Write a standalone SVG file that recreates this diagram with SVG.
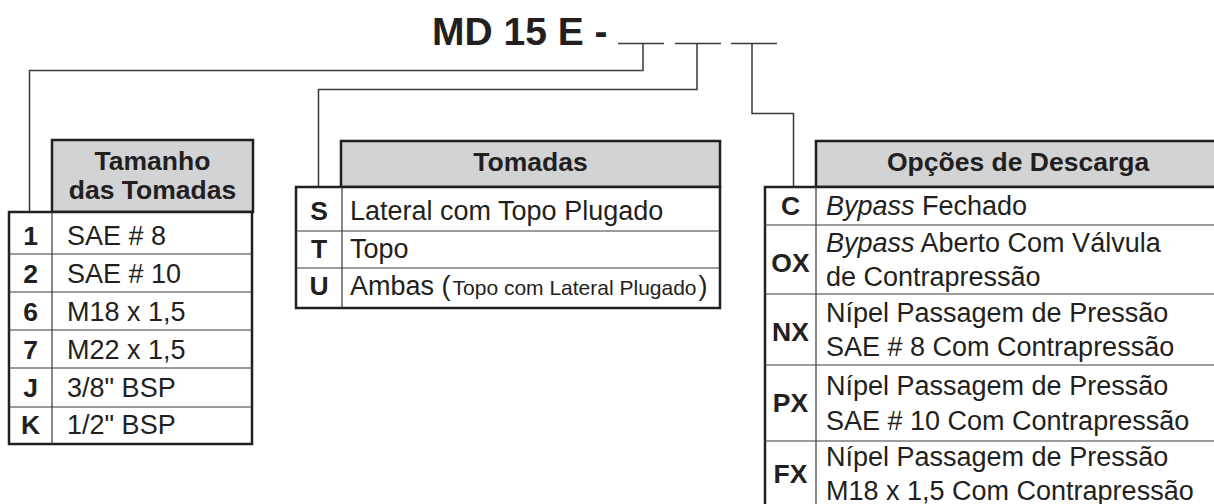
<svg xmlns="http://www.w3.org/2000/svg" width="1214" height="504" viewBox="0 0 1214 504">
<style>
text{font-family:"Liberation Sans",Arial,sans-serif;fill:#231f20;font-size:27px}
.b{font-weight:bold;font-size:26.5px}
.k{font-weight:bold;text-anchor:middle;font-size:26.5px}
.i{font-style:italic}
.hdr{fill:#d1d3d4;stroke:#231f20;stroke-width:2.5}
.box{fill:#fff;stroke:#231f20;stroke-width:2.5}
.div{stroke:#3a3a3a;stroke-width:1.2;fill:none}
.con{stroke:#3a3a3a;stroke-width:1.5;fill:none}
.sm{font-size:21px}
</style>
<rect width="1214" height="504" fill="#fff"/>
<g id="title">
<text x="432" y="45" class="b" style="font-size:39px">MD 15 E -</text>
<path class="con" d="M618,43.5H664M675,43.5H721M731,43.5H777"/>
</g>
<g id="connectors">
<path class="con" d="M643,43.5V70.5H29.5V212"/>
<path class="con" d="M697,43.5V89.5H318.5V187"/>
<path class="con" d="M752,43.5V113.5H793.5V187"/>
</g>
<g id="tamanho">
<rect class="hdr" x="52" y="140" width="201" height="72"/>
<text x="152.5" y="170" class="k">Tamanho</text>
<text x="152.5" y="199" class="k">das Tomadas</text>
<rect class="box" x="9" y="212" width="243" height="232"/>
<path class="div" d="M52,212V444M9,254H252M9,292H252M9,330H252M9,368H252M9,407H252"/>
<text x="30.5" y="245" class="k">1</text><text x="67" y="245">SAE # 8</text>
<text x="30.5" y="283" class="k">2</text><text x="67" y="283">SAE # 10</text>
<text x="30.5" y="321" class="k">6</text><text x="67" y="321">M18 x 1,5</text>
<text x="30.5" y="359" class="k">7</text><text x="67" y="359">M22 x 1,5</text>
<text x="30.5" y="397" class="k">J</text><text x="67" y="397">3/8" BSP</text>
<text x="30.5" y="434" class="k">K</text><text x="67" y="434">1/2" BSP</text>
</g>
<g id="tomadas">
<rect class="hdr" x="341" y="141" width="379" height="46"/>
<text x="530.5" y="171" class="k">Tomadas</text>
<rect class="box" x="296" y="187" width="424" height="121"/>
<path class="div" d="M342,187V308M296,231H720M296,268H720"/>
<text x="319" y="220" class="k">S</text><text x="350" y="220">Lateral com Topo Plugado</text>
<text x="319" y="258" class="k">T</text><text x="350" y="258">Topo</text>
<text x="319" y="295" class="k">U</text><text x="350" y="295">Ambas (<tspan class="sm" dx="2">Topo com Lateral Plugado</tspan><tspan dx="2">)</tspan></text>
</g>
<g id="descarga">
<rect class="hdr" x="816" y="141" width="420" height="46"/>
<text x="887" y="171" class="b">Opções de Descarga</text>
<rect class="box" x="765" y="187" width="470" height="340"/>
<path class="div" d="M816,187V527M765,225H1235M765,294H1235M765,365H1235M765,441H1235"/>
<text x="790.5" y="215" class="k">C</text><text x="826" y="215"><tspan class="i">Bypass</tspan> Fechado</text>
<text x="790.5" y="272" class="k">OX</text>
<text x="826" y="252"><tspan class="i">Bypass</tspan> Aberto Com Válvula</text>
<text x="826" y="286">de Contrapressão</text>
<text x="790.5" y="341" class="k">NX</text>
<text x="826" y="322">Nípel Passagem de Pressão</text>
<text x="826" y="356">SAE # 8 Com Contrapressão</text>
<text x="790.5" y="412" class="k">PX</text>
<text x="826" y="395">Nípel Passagem de Pressão</text>
<text x="826" y="430">SAE # 10 Com Contrapressão</text>
<text x="790.5" y="483" class="k">FX</text>
<text x="826" y="466">Nípel Passagem de Pressão</text>
<text x="826" y="500">M18 x 1,5 Com Contrapressão</text>
</g>
</svg>
